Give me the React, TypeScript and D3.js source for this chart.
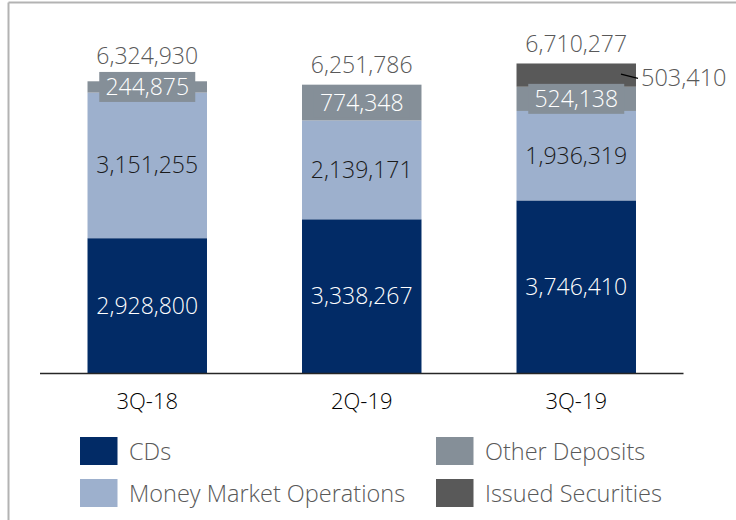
import React from "react";
import * as d3 from "d3";

const categories = ["3Q-18", "2Q-19", "3Q-19"];
const seriesNames = ["CDs", "Money Market Operations", "Other Deposits", "Issued Securities"];
const cds = [2928800, 3338267, 3746410];
const moneyMarket = [3151255, 2139171, 1936319];
const otherDeposits = [244875, 774348, 524138];
const issuedSecurities = [0, 0, 503410];
const totals = [6324930, 6251786, 6710277];

const colors = ["#022b66", "#9db0cd", "#858f98", "#595959"];
const labelColors = ["#ffffff", "#1a1a1a", "#ffffff", "#595959"];

const FONT = "'Open Sans', 'Noto Sans', sans-serif";
const FW = 350;
const fmt = d3.format(",");

export default function App() {
  const W = 736, H = 520;
  const x = d3.scaleBand<string>().domain(categories).range([40, 683.5]).paddingInner(0.443).paddingOuter(0.2215);
  const y = d3.scaleLinear().domain([0, 7000000]).range([373.5, 50.1]);
  const series = [cds, moneyMarket, otherDeposits, issuedSecurities];
  const keys = seriesNames;
  const rows = categories.map((c, i) => {
    const r: any = { cat: c };
    keys.forEach((k, j) => (r[k] = series[j][i]));
    return r;
  });
  const stacked = d3.stack<any>().keys(keys)(rows);
  const bw = x.bandwidth();

  const marks: any[] = [];
  const labels: any[] = [];
  stacked.forEach((layer, j) => {
    layer.forEach((d, i) => {
      const v = d[1] - d[0];
      if (v <= 0) return;
      const x0 = x(categories[i])!;
      const y0 = y(d[1]);
      const y1 = y(d[0]);
      marks.push(<rect key={`r${j}-${i}`} x={x0} y={y0} width={bw} height={y1 - y0} fill={colors[j]} />);
    });
  });

  const boxW = 96, boxH = 30;
  const boxTops: number[] = [];
  stacked.forEach((layer, j) => {
    layer.forEach((d, i) => {
      const v = d[1] - d[0];
      if (v <= 0) return;
      const cx = x(categories[i])! + bw / 2;
      const cy = (y(d[0]) + y(d[1])) / 2;
      if (j === 2) {
        boxTops[i] = cy - boxH / 2;
        labels.push(
          <g key={`l${j}-${i}`}>
            <rect x={cx - boxW / 2} y={cy - boxH / 2} width={boxW} height={boxH} fill={colors[2]} />
            <text x={cx} y={cy} dy="0.35em" textAnchor="middle" fill={labelColors[j]} fontSize={23} fontWeight={FW} fontFamily={FONT}>{fmt(v)}</text>
          </g>
        );
      } else if (j === 3) {
        const xr = x(categories[i])! + bw;
        labels.push(
          <g key={`l${j}-${i}`}>
            <line x1={xr - 15} y1={cy - 1} x2={xr + 2} y2={cy + 3.3} stroke="#000" strokeWidth={1.2} />
            <text x={xr + 5} y={cy + 3} dy="0.35em" textAnchor="start" fill={labelColors[j]} fontSize={23.5} fontWeight={FW} fontFamily={FONT}>{fmt(v)}</text>
          </g>
        );
      } else {
        labels.push(
          <text key={`l${j}-${i}`} x={cx} y={cy} dy="0.35em" textAnchor="middle" fill={labelColors[j]} fontSize={23} fontWeight={FW} fontFamily={FONT}>{fmt(v)}</text>
        );
      }
    });
  });

  const totalLabels = categories.map((c, i) => {
    const cx = x(c)! + bw / 2;
    const top = y(totals[i]);
    const cy = Math.min(top - 20, boxTops[i] - 16);
    return (
      <text key={`t${i}`} x={cx} y={cy} dy="0.35em" textAnchor="middle" fill="#595959" fontSize={23} fontWeight={FW} fontFamily={FONT}>{fmt(totals[i])}</text>
    );
  });

  const axisLabels = categories.map((c) => (
    <text key={c} x={x(c)! + bw / 2} y={401} dy="0.35em" textAnchor="middle" fill="#000" fontSize={22} fontWeight={FW} fontFamily={FONT}>{c}</text>
  ));

  const legendPos = [
    { x: 80, y: 437 },
    { x: 80, y: 479 },
    { x: 436, y: 437 },
    { x: 436, y: 479 },
  ];
  const legend = seriesNames.map((n, j) => (
    <g key={n} transform={`translate(${legendPos[j].x},${legendPos[j].y})`}>
      <rect x={0} y={0} width={37.5} height={28} fill={colors[j]} />
      <text x={49} y={14.5} dy="0.35em" fill="#595959" fontSize={23.5} fontWeight={FW} fontFamily={FONT}>{n}</text>
    </g>
  ));

  return (
    <svg width={W} height={H} style={{ position: "absolute", left: 0, top: 0, background: "#fff" }}>
      <rect x={0} y={0} width={W} height={H} fill="#fff" />
      <line x1={8.5} y1={2.5} x2={W} y2={2.5} stroke="#b3b3b3" strokeWidth={2} />
      <line x1={8.5} y1={2.5} x2={8.5} y2={H} stroke="#b3b3b3" strokeWidth={2} />
      {marks}
      <line x1={40} y1={373.5} x2={683.5} y2={373.5} stroke="#262626" strokeWidth={1.5} />
      {labels}
      {totalLabels}
      {axisLabels}
      {legend}
    </svg>
  );
}
